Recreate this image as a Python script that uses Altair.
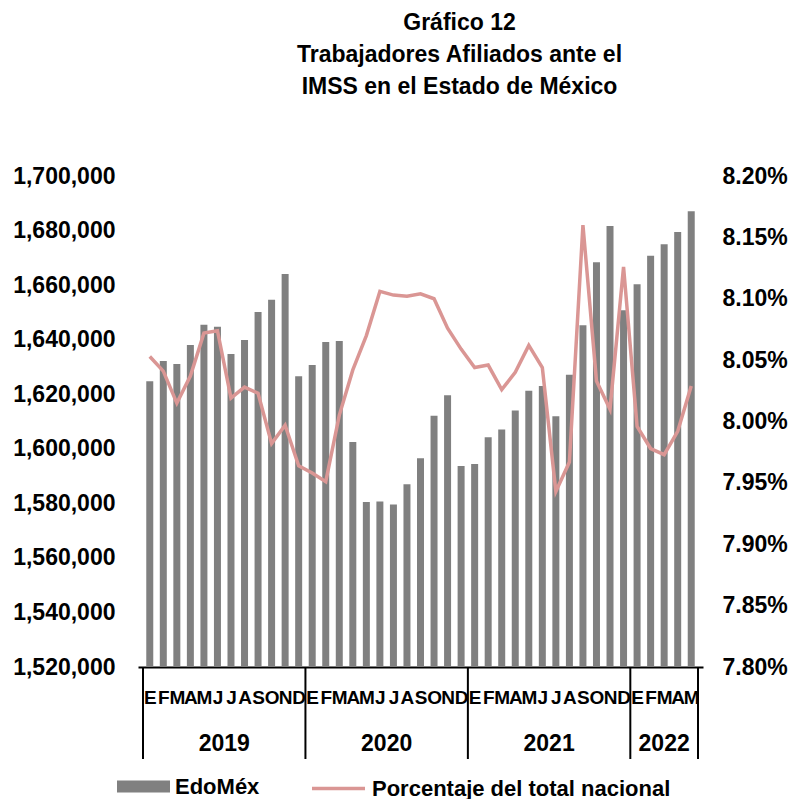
import altair as alt
import pandas as pd

# ---------------- data ----------------
meses = ["E", "F", "M", "A", "M", "J", "J", "A", "S", "O", "N", "D"]
anios = ["2019", "2020", "2021", "2022"]
meses_por_anio = [12, 12, 12, 5]

edomex = [
    1624800, 1632200, 1631100, 1638000, 1645500, 1644700, 1634700, 1639900, 1650100, 1654600, 1664100, 1626600,
    1630700, 1639100, 1639500, 1602500, 1580500, 1580700, 1579600, 1587000, 1596500, 1612100, 1619600, 1593700,
    1594400, 1604200, 1607100, 1614000, 1621300, 1623000, 1611900, 1627100, 1645300, 1668400, 1681700, 1650800,
    1660300, 1670800, 1675000, 1679500, 1687100,
]
porcentaje = [
    8.053, 8.041, 8.015, 8.037, 8.072, 8.074, 8.019, 8.028, 8.023, 7.982, 7.997, 7.964,
    7.958, 7.951, 8.005, 8.042, 8.070, 8.106, 8.103, 8.102, 8.104, 8.100, 8.076, 8.059,
    8.044, 8.046, 8.026, 8.040, 8.062, 8.044, 7.943, 7.967, 8.160, 8.033, 8.010, 8.126,
    7.996, 7.978, 7.973, 7.992, 8.029,
]

serie_barras = "EdoMéx"
serie_linea = "Porcentaje del total nacional"
titulo = ["Gráfico 12", "Trabajadores Afiliados ante el", "IMSS en el Estado de México"]

y_ticks = list(range(1520000, 1700001, 20000))
y2_ticks = [round(7.80 + 0.05 * i, 2) for i in range(9)]

# ---------------- tables ----------------
rows = []
i = 0
for a, n in zip(anios, meses_por_anio):
    for m in range(n):
        rows.append({"idx": i, "mes": meses[m], "anio": a,
                     "edomex": edomex[i], "pct": porcentaje[i],
                     "s_bar": serie_barras, "s_line": serie_linea})
        i += 1
df = pd.DataFrame(rows)

years_df = df.groupby("anio", as_index=False)["idx"].mean().rename(columns={"idx": "centro"})
seps = [-0.5]
acc = -0.5
for n in meses_por_anio:
    acc += n
    seps.append(acc)
sep_df = pd.DataFrame({"sep": seps})

FONT = "Liberation Sans"
W, H = 565, 491
N = len(df)

xscale = alt.Scale(domain=[-0.5, N - 0.5], nice=False, zero=False)
letters_js = "[" + ",".join("'" + m + "'" for m in meses) + "]"

x_axis = alt.Axis(
    values=list(range(N)), labelExpr=letters_js + "[datum.value % 12]",
    title=None, grid=False, ticks=False, tickSize=0, domain=True, domainColor="black",
    domainWidth=2, labelFont=FONT, labelFontWeight="bold", labelFontSize=19,
    labelColor="black", labelPadding=30, labelBaseline="middle", labelOverlap=False,
    labelFlush=False, labelBound=False,
)
X = alt.X("idx:Q", scale=xscale, axis=x_axis)

LEG_Y = 584
LEG_FONT = 22

bars = alt.Chart(df).mark_bar(size=7, clip=True).encode(
    x=X,
    y=alt.Y("edomex:Q",
            scale=alt.Scale(domain=[1520000, 1700000], nice=False, zero=False),
            axis=alt.Axis(values=y_ticks, format=",d", title=None, grid=False, ticks=False,
                          tickSize=0, domain=False, labelFont=FONT, labelFontWeight="bold",
                          labelFontSize=23, labelColor="black", labelPadding=23)),
    fill=alt.Fill("s_bar:N",
                  scale=alt.Scale(domain=[serie_barras], range=["#808080"]),
                  legend=alt.Legend(title=None, orient="none", legendX=-21, legendY=LEG_Y,
                                    symbolType="M-1,-0.226H1V0.226H-1Z", symbolSize=2809,
                                    symbolStrokeWidth=0, labelOffset=5, labelFont=FONT,
                                    labelFontWeight="bold", labelFontSize=LEG_FONT,
                                    labelColor="black", labelLimit=0, padding=0)),
)

line = alt.Chart(df).mark_line(strokeWidth=3.5).encode(
    x=X,
    y=alt.Y("pct:Q",
            scale=alt.Scale(domain=[7.80, 8.20], nice=False, zero=False),
            axis=alt.Axis(orient="right", values=y2_ticks,
                          labelExpr="format(datum.value, '.2f') + '%'",
                          title=None, grid=False, ticks=False, tickSize=0, domain=False,
                          labelFont=FONT, labelFontWeight="bold", labelFontSize=23,
                          labelColor="black", labelPadding=19)),
    stroke=alt.Stroke("s_line:N",
                      scale=alt.Scale(domain=[serie_linea], range=["#DA9694"]),
                      legend=alt.Legend(title=None, orient="none", legendX=172, legendY=LEG_Y,
                                        symbolType="M-1,0H1", symbolSize=2809,
                                        symbolStrokeWidth=3.5, labelOffset=5, labelFont=FONT,
                                        labelFontWeight="bold", labelFontSize=LEG_FONT,
                                        labelColor="black", labelLimit=0, padding=0)),
)

separators = alt.Chart(sep_df).mark_rule(color="black", strokeWidth=2).encode(
    x=alt.X("sep:Q", scale=xscale, axis=x_axis),
    y=alt.value(H),
    y2=alt.value(H + 92),
)

year_text = alt.Chart(years_df).mark_text(
    font=FONT, fontWeight="bold", fontSize=23, color="black", baseline="middle", align="center"
).encode(
    x=alt.X("centro:Q", scale=xscale, axis=x_axis),
    y=alt.value(H + 77),
    text="anio:N",
)

chart = alt.layer(bars, line, separators, year_text).resolve_scale(
    y="independent", fill="independent", stroke="independent"
).properties(
    width=W, height=H,
    background="white",
    title=alt.Title(titulo, font=FONT, fontWeight="bold", fontSize=23, lineHeight=32,
                    color="black", anchor="middle", frame="group", dx=39,
                    baseline="alphabetic", offset=48),
    autosize=alt.AutoSizeParams(type="none"),
    padding={"left": 130, "top": 168, "right": 90, "bottom": 132},
).configure_view(strokeWidth=0)

chart.save("out.html", embed_options={"renderer": "svg", "actions": False})
